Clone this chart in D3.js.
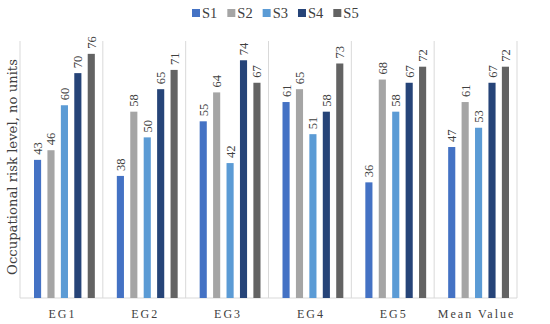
<!DOCTYPE html>
<html>
<head>
<meta charset="utf-8">
<script src="https://cdn.jsdelivr.net/npm/d3@7"></script>
<style>
  body { margin: 0; background: #fff; }
  text { font-family: "Liberation Serif", "DejaVu Serif", serif; fill: #404040; }
</style>
</head>
<body>
<div id="chart"></div>
<script>
// data
var categories = ["EG1", "EG2", "EG3", "EG4", "EG5", "Mean Value"];
var seriesNames = ["S1", "S2", "S3", "S4", "S5"];
var s1 = [43, 38, 55, 61, 36, 47];
var s2 = [46, 58, 64, 65, 68, 61];
var s3 = [60, 50, 42, 51, 58, 53];
var s4 = [70, 65, 74, 58, 67, 67];
var s5 = [76, 71, 67, 73, 72, 72];
var colors = ["#4472C4", "#A5A5A5", "#5B9BD5", "#264478", "#636363"];

var seriesValues = [s1, s2, s3, s4, s5];

var width = 550, height = 324;
var margin = {top: 41, right: 33, bottom: 26, left: 20};

var svg = d3.select("#chart").append("svg")
    .attr("width", width)
    .attr("height", height);

var x = d3.scaleBand()
    .domain(categories)
    .range([margin.left, width - margin.right]);

var xInner = d3.scaleBand()
    .domain(seriesNames)
    .range([14, x.bandwidth() - 8])
    .paddingInner(0.47);

var y = d3.scaleLinear()
    .domain([0, 80])
    .range([height - margin.bottom, margin.top]);

// vertical separators between categories
var bounds = categories.map(function(c) { return x(c); }).concat([x.range()[1]]);
svg.append("g").selectAll("line")
    .data(bounds)
    .enter().append("line")
    .attr("x1", function(d) { return d; })
    .attr("x2", function(d) { return d; })
    .attr("y1", y(80))
    .attr("y2", y(0))
    .attr("stroke", "#d9d9d9")
    .attr("stroke-width", 1);

// baseline
svg.append("line")
    .attr("x1", x.range()[0])
    .attr("x2", x.range()[1])
    .attr("y1", y(0))
    .attr("y2", y(0))
    .attr("stroke", "#d9d9d9");

// bars
var groups = svg.selectAll("g.cat")
    .data(categories)
    .enter().append("g")
    .attr("class", "cat")
    .attr("transform", function(d) { return "translate(" + x(d) + ",0)"; });

groups.each(function(cat, ci) {
    var g = d3.select(this);
    var rows = seriesNames.map(function(s, si) {
        return {name: s, value: seriesValues[si][ci], color: colors[si]};
    });
    g.selectAll("rect")
        .data(rows)
        .enter().append("rect")
        .attr("x", function(d) { return xInner(d.name); })
        .attr("y", function(d) { return y(d.value); })
        .attr("width", xInner.bandwidth())
        .attr("height", function(d) { return y(0) - y(d.value); })
        .attr("fill", function(d) { return d.color; });

    // value labels, rotated
    g.selectAll("text.val")
        .data(rows)
        .enter().append("text")
        .attr("class", "val")
        .attr("transform", function(d) {
            var cx = xInner(d.name) + xInner.bandwidth() / 2 + 4.5;
            return "translate(" + cx + "," + (y(d.value) - 5) + ") rotate(-90)";
        })
        .attr("font-size", 12.5)
        .text(function(d) { return d.value; });
});

// x axis labels
svg.append("g").selectAll("text")
    .data(categories)
    .enter().append("text")
    .attr("x", function(d) { return x(d) + x.bandwidth() / 2 + 1; })
    .attr("y", 318)
    .attr("text-anchor", "middle")
    .attr("font-size", 12)
    .attr("letter-spacing", "2px")
    .text(function(d) { return d; });

// y axis title (style so it wins over the css rule)
svg.append("text")
    .attr("transform", "translate(16.5,167) rotate(-90)")
    .attr("text-anchor", "middle")
    .style("font-family", "'DejaVu Serif'")
    .style("font-size", "13.2px")
    .text("Occupational risk level, no units");

// legend
var legend = svg.append("g").attr("transform", "translate(192,13)");
var lx = 0;
seriesNames.forEach(function(s, i) {
    var item = legend.append("g").attr("transform", "translate(" + lx + ",0)");
    item.append("rect")
        .attr("x", 0).attr("y", -4)
        .attr("width", 8).attr("height", 8)
        .attr("fill", colors[i]);
    var t = item.append("text")
        .attr("x", 10).attr("y", 4.5)
        .attr("font-size", 14.5)
        .text(s);
    lx += 10 + t.node().getComputedTextLength() + 10;
});
</script>
</body>
</html>
